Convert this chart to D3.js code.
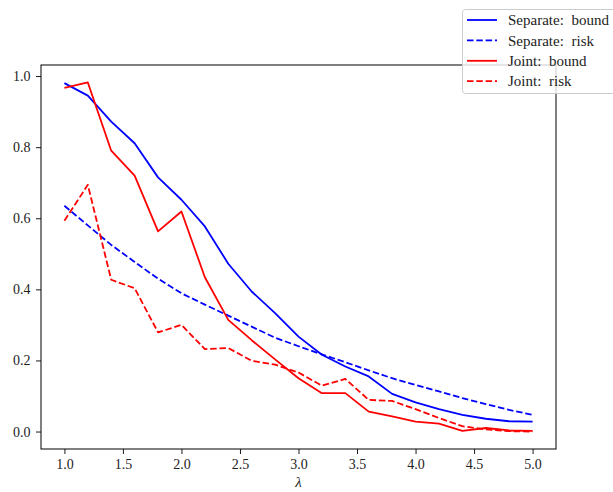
<!DOCTYPE html>
<html>
<head>
<meta charset="utf-8">
<script src="https://cdn.jsdelivr.net/npm/d3@7"></script>
<style>
html,body{margin:0;padding:0;background:#fff;}
svg{display:block;}
</style>
</head>
<body>
<svg id="chart" width="613" height="492"></svg>
<script>
const lambdas = [1.0,1.2,1.4,1.6,1.8,2.0,2.2,2.4,2.6,2.8,3.0,3.2,3.4,3.6,3.8,4.0,4.2,4.4,4.6,4.8,5.0];
const separateBound = [0.980,0.945,0.872,0.811,0.715,0.652,0.577,0.472,0.394,0.333,0.267,0.216,0.183,0.155,0.106,0.082,0.063,0.047,0.036,0.029,0.028];
const separateRisk  = [0.635,0.580,0.525,0.477,0.430,0.389,0.357,0.326,0.295,0.264,0.240,0.217,0.195,0.172,0.150,0.131,0.113,0.094,0.077,0.061,0.047];
const jointBound    = [0.967,0.982,0.790,0.720,0.563,0.619,0.434,0.314,0.257,0.203,0.150,0.108,0.108,0.056,0.043,0.028,0.022,0.002,0.010,0.003,0.002];
const jointRisk     = [0.593,0.694,0.427,0.403,0.279,0.300,0.232,0.235,0.199,0.188,0.166,0.129,0.148,0.089,0.086,0.063,0.038,0.015,0.006,0.001,0.000];
const xTicks = [1.0,1.5,2.0,2.5,3.0,3.5,4.0,4.5,5.0];
const yTicks = [0.0,0.2,0.4,0.6,0.8,1.0];
const seriesNames = ["Separate: bound","Separate: risk","Joint: bound","Joint: risk"];

const FONT = "'Liberation Serif'";

const series = [
  {name: seriesNames[0], values: separateBound, color: "#0000ff", dashed: false},
  {name: seriesNames[1], values: separateRisk,  color: "#0000ff", dashed: true},
  {name: seriesNames[2], values: jointBound,    color: "#ff0000", dashed: false},
  {name: seriesNames[3], values: jointRisk,     color: "#ff0000", dashed: true}
];

const L = 41, R = 556, T = 65, B = 449;
const svg = d3.select("#chart");

const x = d3.scaleLinear().domain([0.8, 5.2]).range([L, R]);
const allVals = [].concat(separateBound, separateRisk, jointBound, jointRisk);
const ymin = d3.min(allVals), ymax = d3.max(allVals);
const pad = (ymax - ymin) * 0.05;
const y = d3.scaleLinear().domain([ymin - pad, ymax + pad]).range([B, T]);

const line = d3.line().x((d,i)=>x(lambdas[i])).y(d=>y(d));

const plot = svg.append("g");
series.forEach(s => {
  plot.append("path")
    .datum(s.values)
    .attr("d", line)
    .attr("fill","none")
    .attr("stroke", s.color)
    .attr("stroke-width", 1.8)
    .attr("stroke-dasharray", s.dashed ? "6.5,2.8" : null)
    .attr("stroke-linejoin","round");
});

// axes
const xAxis = d3.axisBottom(x).tickValues(xTicks).tickFormat(d3.format(".1f")).tickSizeOuter(0).tickSize(5).tickPadding(5);
const yAxis = d3.axisLeft(y).tickValues(yTicks).tickFormat(d3.format(".1f")).tickSizeOuter(0).tickSize(5).tickPadding(5.5);

const gx = svg.append("g").attr("transform", `translate(0,${B})`).call(xAxis);
const gy = svg.append("g").attr("transform", `translate(${L},0)`).call(yAxis);
[gx, gy].forEach(g => {
  g.attr("font-family", FONT).attr("font-size", 14);
  g.select(".domain").remove();
  g.selectAll(".tick line").attr("stroke","#000").attr("stroke-width",0.9);
  g.selectAll(".tick text").attr("fill","#222")
    .attr("font-family", FONT).style("font-family", FONT).style("font-size","14px");
});
gx.selectAll(".tick text").attr("dy","0.71em");

// frame
svg.append("rect").attr("x",L).attr("y",T).attr("width",R-L).attr("height",B-T)
  .attr("fill","none").attr("stroke","#000").attr("stroke-width",1);

// x label
svg.append("text").attr("x",(L+R)/2).attr("y",487).attr("text-anchor","middle")
  .style("font-family", FONT).style("font-style","italic").style("font-size","15px")
  .attr("fill","#222").text("λ");

// legend
const lg = svg.append("g");
lg.append("rect").attr("x",462.5).attr("y",9.5).attr("width",170).attr("height",84)
  .attr("rx",3).attr("fill","#fff").attr("fill-opacity",0.8)
  .attr("stroke","#cccccc").attr("stroke-width",1);
series.forEach((s,i) => {
  const yy = 20 + i*20.4;
  lg.append("line").attr("x1",467).attr("x2",497).attr("y1",yy).attr("y2",yy)
    .attr("stroke",s.color).attr("stroke-width",1.8)
    .attr("stroke-dasharray", s.dashed ? "6.5,2.8" : null);
  lg.append("text").attr("x",508).attr("y",yy).attr("dy","0.35em")
    .style("font-family", FONT).style("font-size","15px").style("word-spacing","4px")
    .attr("fill","#222").text(s.name);
});
</script>
</body>
</html>
